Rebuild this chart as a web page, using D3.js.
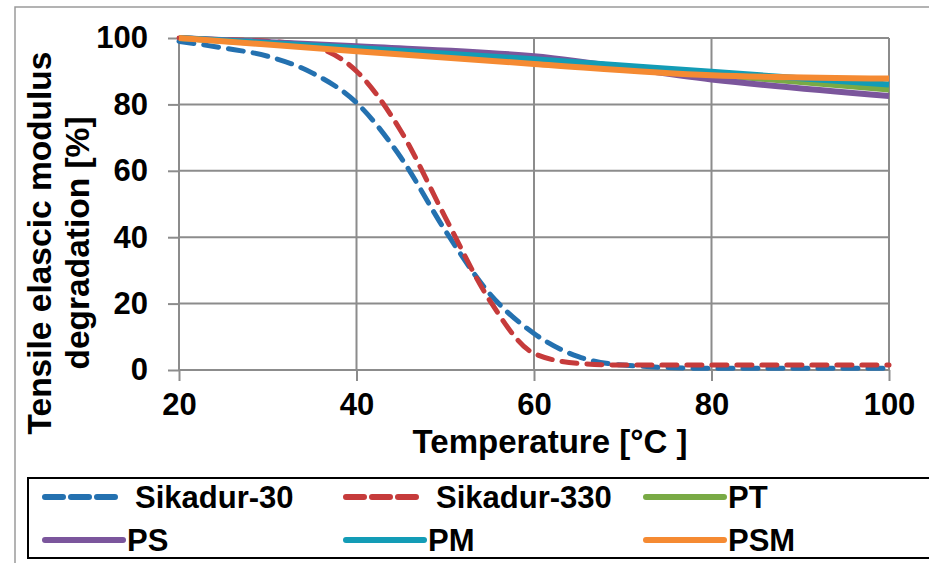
<!DOCTYPE html>
<html>
<head>
<meta charset="utf-8">
<script src="https://cdn.jsdelivr.net/npm/d3@7"></script>
<style>
  body { margin: 0; background: #fff; }
  text { font-family: "Liberation Sans", Arial, sans-serif; font-weight: bold; fill: #000; }
</style>
</head>
<body>
<div class="chart"></div>
<script>
// temperatures (x) for the two adhesive curves
const tempDense = [20, 25, 30, 35, 40, 45, 50, 55, 60, 65, 70, 80, 90, 100];
const sika30 = [99, 97, 94.5, 89.5, 80.5, 64, 42, 23, 11, 4, 1.5, 0.5, 0.5, 0.5];
const sika330 = [100, 99.5, 99, 97.5, 90, 72, 46, 21, 5, 2, 1.5, 1.5, 1.5, 1.5];

// temperatures for the polymer series
const tempCoarse = [20, 40, 60, 80, 100];
const PT = [100, 96.5, 93, 89, 84.5];
const PS = [100, 97.5, 94.5, 87.5, 82.5];
const PM = [100, 97, 93.6, 89.8, 86];
const PSM = [100, 96, 92.2, 88.8, 87.8];

const xTicks = [20, 40, 60, 80, 100];
const yTicks = [0, 20, 40, 60, 80, 100];

const series = [
  {name: 'Sikadur-30', x: tempDense, y: sika30, color: '#2471b0', dash: true},
  {name: 'Sikadur-330', x: tempDense, y: sika330, color: '#c63b3b', dash: true},
  {name: 'PT', x: tempCoarse, y: PT, color: '#79aa45', dash: false},
  {name: 'PS', x: tempCoarse, y: PS, color: '#7b569c', dash: false},
  {name: 'PM', x: tempCoarse, y: PM, color: '#139cb6', dash: false},
  {name: 'PSM', x: tempCoarse, y: PSM, color: '#f58a32', dash: false}
];

const width = 929, height = 563;

const svg = d3.select('.chart').append('svg')
  .attr('width', width)
  .attr('height', height);

// outer chart frame (only top & left visible)
svg.append('path')
  .attr('d', 'M15,563 V7 H929')
  .attr('fill', 'none')
  .attr('stroke', '#9a9a9a')
  .attr('stroke-width', 1.5);

const xScale = d3.scaleLinear().domain([20, 100]).range([179, 889]);
const yScale = d3.scaleLinear().domain([0, 100]).range([370, 38]);

// gridlines
svg.append('g').selectAll('line').data(yTicks.slice(1)).enter().append('line')
  .attr('x1', 179).attr('x2', 889)
  .attr('y1', d => yScale(d)).attr('y2', d => yScale(d))
  .attr('stroke', '#8c8c8c').attr('stroke-width', 2);
svg.append('g').selectAll('line').data(xTicks.slice(1)).enter().append('line')
  .attr('y1', 38).attr('y2', 370)
  .attr('x1', d => xScale(d)).attr('x2', d => xScale(d))
  .attr('stroke', '#8c8c8c').attr('stroke-width', 2);

// axes
const yAxis = d3.axisLeft(yScale).tickValues(yTicks).tickSize(11).tickPadding(20);
const xAxis = d3.axisBottom(xScale).tickValues(xTicks).tickSize(11).tickPadding(12);

const yG = svg.append('g').attr('transform', 'translate(179,0)').call(yAxis);
const xG = svg.append('g').attr('transform', 'translate(0,370)').call(xAxis);

[yG, xG].forEach(g => {
  g.select('.domain').attr('stroke', '#8c8c8c').attr('stroke-width', 2);
  g.selectAll('.tick line').attr('stroke', '#8c8c8c').attr('stroke-width', 2);
  g.selectAll('.tick text')
    .attr('font-size', 31)
    .attr('font-family', '"Liberation Sans", Arial, sans-serif')
    .attr('font-weight', 'bold')
    .attr('fill', '#000');
});
yG.select('.domain').attr('d', 'M0,38V370');
xG.select('.domain').attr('d', 'M179,0H889');

// lines
const line = d3.line().curve(d3.curveMonotoneX);
series.forEach(s => {
  const pts = s.x.map((t, i) => [xScale(t), yScale(s.y[i])]);
  svg.append('path')
    .attr('d', line(pts))
    .attr('fill', 'none')
    .attr('stroke', s.color)
    .attr('stroke-width', s.dash ? 5 : 6)
    .attr('stroke-dasharray', s.dash ? '15,10' : null)
    .attr('stroke-linecap', s.dash ? 'round' : 'butt');
});

// axis titles
svg.append('text')
  .attr('x', 550).attr('y', 453)
  .attr('text-anchor', 'middle')
  .attr('font-size', 33)
  .text('Temperature [°C ]');

const yTitle = svg.append('text')
  .attr('transform', 'translate(51,243) rotate(-90)')
  .attr('text-anchor', 'middle')
  .attr('font-size', 33.5);
yTitle.append('tspan').attr('x', 0).attr('y', 0).text('Tensile elascic modulus');
yTitle.append('tspan').attr('x', 0).attr('y', 38).text('degradation [%]');

// legend
svg.append('rect')
  .attr('x', 28).attr('y', 478)
  .attr('width', 960).attr('height', 80)
  .attr('fill', 'none')
  .attr('stroke', '#000')
  .attr('stroke-width', 2);

const legendPos = [
  {x: 45, y: 497}, {x: 346, y: 497}, {x: 646, y: 497},
  {x: 45, y: 540}, {x: 346, y: 540}, {x: 646, y: 540}
];

series.forEach((s, i) => {
  const p = legendPos[i];
  svg.append('line')
    .attr('x1', p.x).attr('x2', p.x + (s.dash ? 70 : 78))
    .attr('y1', p.y).attr('y2', p.y)
    .attr('stroke', s.color)
    .attr('stroke-width', 6)
    .attr('stroke-dasharray', s.dash ? '18,8' : null)
    .attr('stroke-linecap', 'round');
  svg.append('text')
    .attr('x', p.x + (s.dash ? 90 : 82))
    .attr('y', p.y)
    .attr('dy', '0.36em')
    .attr('font-size', 31)
    .text(s.name);
});
</script>
</body>
</html>
